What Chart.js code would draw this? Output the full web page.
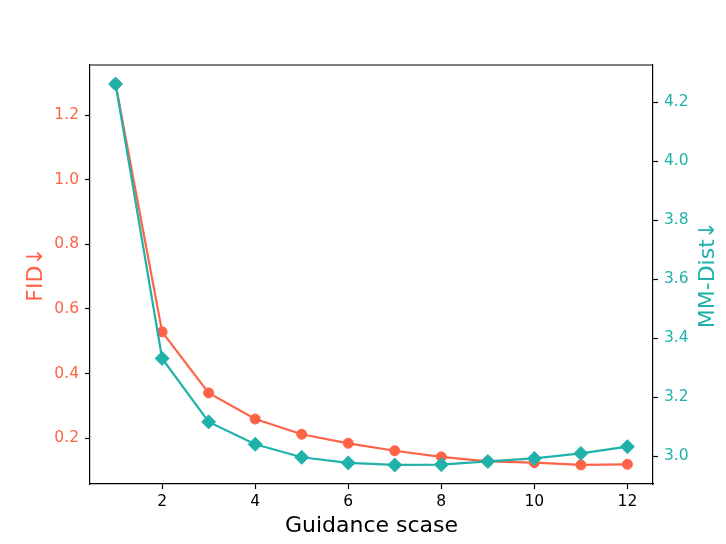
<!DOCTYPE html>
<html>
<head>
<meta charset="utf-8">
<script src="https://cdn.jsdelivr.net/npm/chart.js@4"></script>
<style>
  html, body { margin: 0; padding: 0; background: #fff; }
  #wrap { width: 726px; height: 544px; }
</style>
</head>
<body>
<div id="wrap"><canvas id="chart" width="726" height="544"></canvas></div>
<script>
// data
const guidance = [1, 2, 3, 4, 5, 6, 7, 8, 9, 10, 11, 12];
const fid = [1.296, 0.529, 0.340, 0.259, 0.212, 0.184, 0.161, 0.142, 0.128, 0.124, 0.117, 0.119];
const mmDist = [4.262, 3.332, 3.117, 3.041, 2.997, 2.978, 2.971, 2.972, 2.983, 2.993, 3.010, 3.033];
const xTicks = [2, 4, 6, 8, 10, 12];
const fidTicks = [0.2, 0.4, 0.6, 0.8, 1.0, 1.2];
const mmTicks = [3.0, 3.2, 3.4, 3.6, 3.8, 4.0, 4.2];

const RED = '#FF6347';
const TEAL = '#20B2AA';
const FONT = "'DejaVu Sans', sans-serif";

// matplotlib style: 5% margin around the data
function padded(arr) {
    const lo = Math.min(...arr), hi = Math.max(...arr);
    const m = (hi - lo) * 0.05;
    return [lo - m, hi + m];
}
const [xMin, xMax] = padded(guidance);
const [fMin, fMax] = padded(fid);
const [mMin, mMax] = padded(mmDist);

// top spine + right title reading bottom-to-top (chart.js turns right titles the other way)
const extras = {
    id: 'extras',
    afterDraw(chart) {
        const { ctx, chartArea } = chart;
        ctx.save();
        ctx.strokeStyle = '#000';
        ctx.lineWidth = 1.2;
        ctx.beginPath();
        ctx.moveTo(chartArea.left, chartArea.top);
        ctx.lineTo(chartArea.right, chartArea.top);
        ctx.stroke();

        ctx.translate(714, (chartArea.top + chartArea.bottom) / 2);
        ctx.rotate(-Math.PI / 2);
        ctx.fillStyle = TEAL;
        ctx.font = '22px ' + FONT;
        ctx.textAlign = 'center';
        ctx.textBaseline = 'alphabetic';
        ctx.fillText('MM-Dist↓', 0, 0);
        ctx.restore();
    }
};

function fixTicks(list) {
    return scale => { scale.ticks = list.map(v => ({ value: v })); };
}

new Chart(document.getElementById('chart').getContext('2d'), {
    type: 'line',
    data: {
        datasets: [
            {
                label: 'FID',
                data: guidance.map((g, i) => ({ x: g, y: fid[i] })),
                yAxisID: 'yL',
                borderColor: RED,
                backgroundColor: RED,
                borderWidth: 2.2,
                pointStyle: 'circle',
                pointRadius: 5,
                pointBorderWidth: 1,
                pointBorderColor: RED,
                order: 2
            },
            {
                label: 'MM-Dist',
                data: guidance.map((g, i) => ({ x: g, y: mmDist[i] })),
                yAxisID: 'yR',
                borderColor: TEAL,
                backgroundColor: TEAL,
                borderWidth: 2.2,
                pointStyle: 'rectRot',
                pointRadius: 7,
                pointBorderWidth: 1,
                pointBorderColor: TEAL,
                order: 1
            }
        ]
    },
    options: {
        responsive: false,
        animation: false,
        layout: { padding: { top: 65, left: 0, right: 0, bottom: 0 } },
        plugins: { legend: { display: false }, tooltip: { enabled: false } },
        scales: {
            x: {
                type: 'linear',
                position: 'bottom',
                min: xMin,
                max: xMax,
                afterBuildTicks: fixTicks(xTicks),
                afterFit: s => { s.height = 60; },
                border: { color: '#000', width: 1.2 },
                grid: { drawOnChartArea: false, color: '#000', tickLength: 5, tickWidth: 1.2 },
                ticks: { color: '#000', padding: 4, font: { family: FONT, size: 15.5 }, maxRotation: 0 },
                title: { display: true, text: 'Guidance scase', color: '#000', font: { family: FONT, size: 22 }, padding: { top: 0, bottom: 5 } }
            },
            yL: {
                type: 'linear',
                position: 'left',
                min: fMin,
                max: fMax,
                afterBuildTicks: fixTicks(fidTicks),
                afterFit: s => { s.width = 90; },
                border: { color: '#000', width: 1.2 },
                grid: { drawOnChartArea: false, color: '#000', tickLength: 5, tickWidth: 1.2 },
                ticks: { color: RED, padding: 6, font: { family: FONT, size: 15.5 }, callback: v => v.toFixed(1) },
                title: { display: true, text: 'FID↓', color: RED, font: { family: FONT, size: 22 }, padding: { top: 23, bottom: 0 } }
            },
            yR: {
                type: 'linear',
                position: 'right',
                min: mMin,
                max: mMax,
                afterBuildTicks: fixTicks(mmTicks),
                afterFit: s => { s.width = 73; },
                border: { color: '#000', width: 1.2 },
                grid: { drawOnChartArea: false, color: '#000', tickLength: 5, tickWidth: 1.2 },
                ticks: { color: TEAL, padding: 6, font: { family: FONT, size: 15.5 }, callback: v => v.toFixed(1) }
            }
        }
    },
    plugins: [extras]
});
</script>
</body>
</html>
